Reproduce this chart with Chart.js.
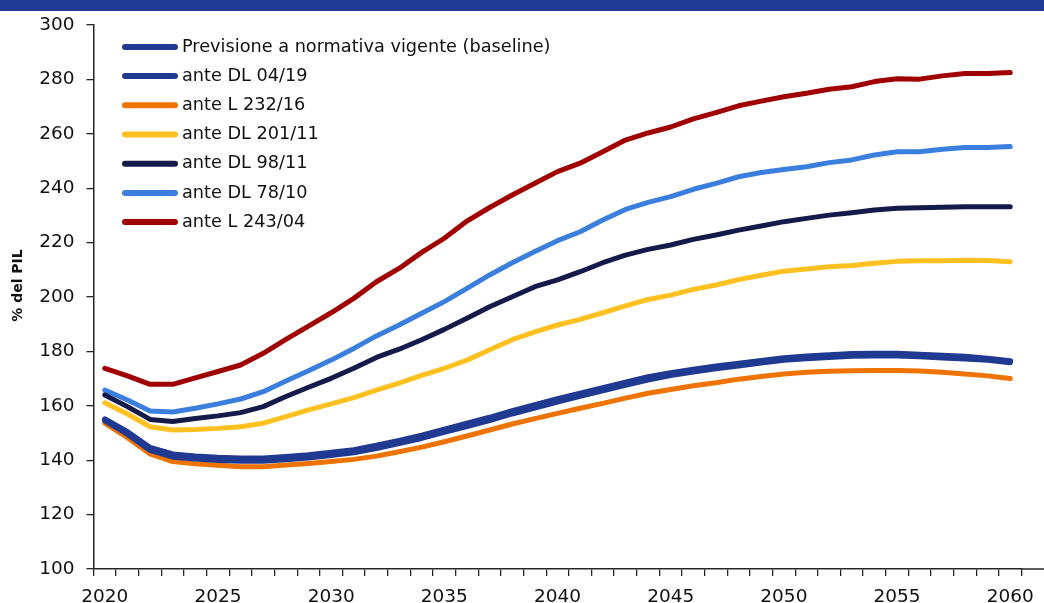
<!DOCTYPE html>
<html>
<head>
<meta charset="utf-8">
<script src="https://cdn.jsdelivr.net/npm/chart.js@4.4.1/dist/chart.umd.min.js"></script>
<style>
  html, body { margin: 0; padding: 0; background: #ffffff; }
  #wrap { position: relative; width: 1044px; height: 603px; overflow: hidden; }
  #band { position: absolute; left: 0; top: 0; width: 1044px; height: 11px; background: #203A92; }
  #c { position: absolute; left: 0; top: 0; }
</style>
</head>
<body>
<div id="wrap">
  <canvas id="c" width="1044" height="603"></canvas>
  <div id="band"></div>
</div>
<script>
// Years on the horizontal axis
const years = [
  '2020','2021','2022','2023','2024','2025','2026','2027','2028','2029',
  '2030','2031','2032','2033','2034','2035','2036','2037','2038','2039',
  '2040','2041','2042','2043','2044','2045','2046','2047','2048','2049',
  '2050','2051','2052','2053','2054','2055','2056','2057','2058','2059','2060'
];

// Vertical axis tick values (% of GDP)
const yTicks = [100, 120, 140, 160, 180, 200, 220, 240, 260, 280, 300];

// Series names
const seriesNames = [
  'Previsione a normativa vigente (baseline)',
  'ante DL 04/19',
  'ante L 232/16',
  'ante DL 201/11',
  'ante DL 98/11',
  'ante DL 78/10',
  'ante L 243/04'
];

// Pension-debt projections, % del PIL
const baseline = [
  155.0, 150.3, 144.5, 142.1, 141.4, 140.9, 140.6, 140.6, 141.2, 141.8,
  142.7, 143.7, 145.3, 147.1, 149.0, 151.2, 153.4, 155.6, 158.0, 160.2,
  162.4, 164.5, 166.5, 168.5, 170.5, 172.0, 173.3, 174.5, 175.5, 176.5,
  177.5, 178.1, 178.6, 179.0, 179.1, 179.1, 178.8, 178.4, 178.0, 177.3, 176.4
];
const anteDL0419 = [
  154.5, 149.5, 143.6, 141.1, 140.4, 139.9, 139.6, 139.6, 140.2, 140.8,
  141.7, 142.7, 144.3, 146.1, 148.0, 150.2, 152.4, 154.6, 157.0, 159.2,
  161.4, 163.5, 165.5, 167.5, 169.5, 171.1, 172.4, 173.6, 174.6, 175.7,
  176.7, 177.3, 177.8, 178.2, 178.3, 178.3, 178.0, 177.6, 177.2, 176.7, 175.8
];
const anteL23216 = [
  153.6, 148.3, 142.3, 139.5, 138.7, 138.1, 137.6, 137.6, 138.2, 138.8,
  139.5, 140.3, 141.5, 143.1, 144.8, 146.8, 148.9, 151.1, 153.3, 155.3,
  157.2, 159.1, 160.9, 162.8, 164.6, 166.0, 167.4, 168.5, 169.8, 170.8,
  171.7, 172.3, 172.7, 172.9, 173.0, 173.0, 172.8, 172.3, 171.7, 171.0, 170.0
];
const anteDL20111 = [
  161.1, 157.0, 152.3, 151.1, 151.3, 151.7, 152.3, 153.6, 156.0, 158.5,
  160.7, 163.0, 165.8, 168.3, 171.2, 173.8, 176.8, 180.6, 184.3, 187.2,
  189.7, 191.8, 194.2, 196.7, 199.1, 200.7, 202.8, 204.4, 206.4, 208.0,
  209.5, 210.3, 211.1, 211.6, 212.4, 213.1, 213.3, 213.3, 213.5, 213.4, 213.0
];
const anteDL9811 = [
  164.0, 159.7, 155.0, 154.2, 155.3, 156.3, 157.5, 159.7, 163.4, 166.8,
  170.1, 173.8, 177.8, 180.8, 184.3, 188.1, 192.2, 196.4, 200.1, 203.8,
  206.3, 209.3, 212.6, 215.4, 217.5, 219.1, 221.2, 222.8, 224.6, 226.1,
  227.7, 228.9, 230.1, 231.0, 232.0, 232.6, 232.8, 233.0, 233.2, 233.2, 233.2
];
const anteDL7810 = [
  165.8, 162.1, 158.1, 157.7, 159.1, 160.7, 162.5, 165.2, 169.1, 172.9,
  176.8, 181.1, 185.7, 189.7, 194.0, 198.3, 203.2, 208.1, 212.6, 216.7,
  220.7, 224.0, 228.3, 232.2, 234.8, 236.9, 239.6, 241.8, 244.2, 245.8,
  246.9, 247.9, 249.4, 250.4, 252.2, 253.4, 253.4, 254.3, 255.0, 255.0, 255.3
];
const anteL24304 = [
  173.8, 171.0, 167.9, 167.9, 170.3, 172.6, 175.0, 179.3, 184.4, 189.3,
  194.2, 199.5, 205.6, 210.5, 216.4, 221.6, 227.9, 232.9, 237.5, 241.8,
  246.1, 249.2, 253.4, 257.7, 260.3, 262.5, 265.5, 267.8, 270.3, 272.0,
  273.6, 274.9, 276.4, 277.3, 279.2, 280.2, 280.1, 281.3, 282.2, 282.2, 282.5
];

const seriesValues = [baseline, anteDL0419, anteL23216, anteDL20111, anteDL9811, anteDL7810, anteL24304];
const seriesColors = ['#203A92', '#203A92', '#EF7300', '#FFC020', '#141A4A', '#3A7FDD', '#A00000'];
const seriesWidths = [6, 5, 5, 5, 5, 5, 5];

const FONT = '"DejaVu Sans", sans-serif';
const AXIS = '#262626';
const TEXT = '#111111';

// Vertical list of series keys drawn inside the plot, top-left
const seriesKey = {
  id: 'seriesKey',
  afterDraw(chart) {
    const ctx = chart.ctx;
    ctx.save();
    ctx.font = '17.7px ' + FONT;
    ctx.textBaseline = 'middle';
    ctx.textAlign = 'left';
    chart.data.datasets.forEach((ds, i) => {
      const y = 46.9 + i * 29.2;
      ctx.strokeStyle = ds.borderColor;
      ctx.lineWidth = 6;
      ctx.lineCap = 'round';
      ctx.beginPath();
      ctx.moveTo(125, y);
      ctx.lineTo(175, y);
      ctx.stroke();
      ctx.fillStyle = TEXT;
      ctx.fillText(ds.label, 182, y);
    });
    ctx.restore();
  }
};

// Rotated y-axis title and the x-axis line running on to the right edge
const axisExtras = {
  id: 'axisExtras',
  afterDraw(chart) {
    const ctx = chart.ctx;
    const area = chart.chartArea;
    ctx.save();
    ctx.strokeStyle = AXIS;
    ctx.lineWidth = 1.5;
    ctx.beginPath();
    ctx.moveTo(area.right, area.bottom);
    ctx.lineTo(chart.width, area.bottom);
    ctx.stroke();

    ctx.translate(18.5, 285.5);
    ctx.rotate(-Math.PI / 2);
    ctx.font = 'bold 14px ' + FONT;
    ctx.fillStyle = TEXT;
    ctx.textAlign = 'center';
    ctx.textBaseline = 'middle';
    ctx.fillText('% del PIL', 0, 0);
    ctx.restore();
  }
};

new Chart(document.getElementById('c'), {
  type: 'line',
  data: {
    labels: years,
    datasets: seriesNames.map((name, i) => ({
      label: name,
      data: seriesValues[i],
      borderColor: seriesColors[i],
      backgroundColor: seriesColors[i],
      borderWidth: seriesWidths[i],
      borderCapStyle: 'round',
      borderJoinStyle: 'round',
      pointRadius: 0,
      tension: 0,
      fill: false
    }))
  },
  options: {
    responsive: false,
    animation: false,
    layout: { padding: { top: 25, right: 20, left: 0, bottom: 0 } },
    plugins: {
      legend: { display: false },
      tooltip: { enabled: false },
      title: { display: false }
    },
    scales: {
      x: {
        type: 'category',
        offset: true,
        afterFit: (scale) => { scale.height = 34; },
        grid: {
          offset: true,
          drawOnChartArea: false,
          drawTicks: true,
          tickLength: 7,
          color: AXIS,
          lineWidth: 1.3
        },
        border: { display: true, color: AXIS, width: 1.5 },
        ticks: {
          autoSkip: false,
          maxRotation: 0,
          minRotation: 0,
          padding: 10,
          color: TEXT,
          font: { family: FONT, size: 18.5 },
          callback: function (value) {
            const label = this.getLabelForValue(value);
            return Number(label) % 5 === 0 ? label : '';
          }
        }
      },
      y: {
        min: yTicks[0],
        max: yTicks[yTicks.length - 1],
        afterBuildTicks: (scale) => { scale.ticks = yTicks.map(v => ({ value: v })); },
        afterFit: (scale) => { scale.width = 93.5; },
        grid: {
          drawOnChartArea: false,
          drawTicks: true,
          tickLength: 7,
          color: AXIS,
          lineWidth: 1.3
        },
        border: { display: true, color: AXIS, width: 1.5 },
        ticks: {
          padding: 12,
          color: TEXT,
          font: { family: FONT, size: 18.5 }
        }
      }
    }
  },
  plugins: [seriesKey, axisExtras]
});
</script>
</body>
</html>
